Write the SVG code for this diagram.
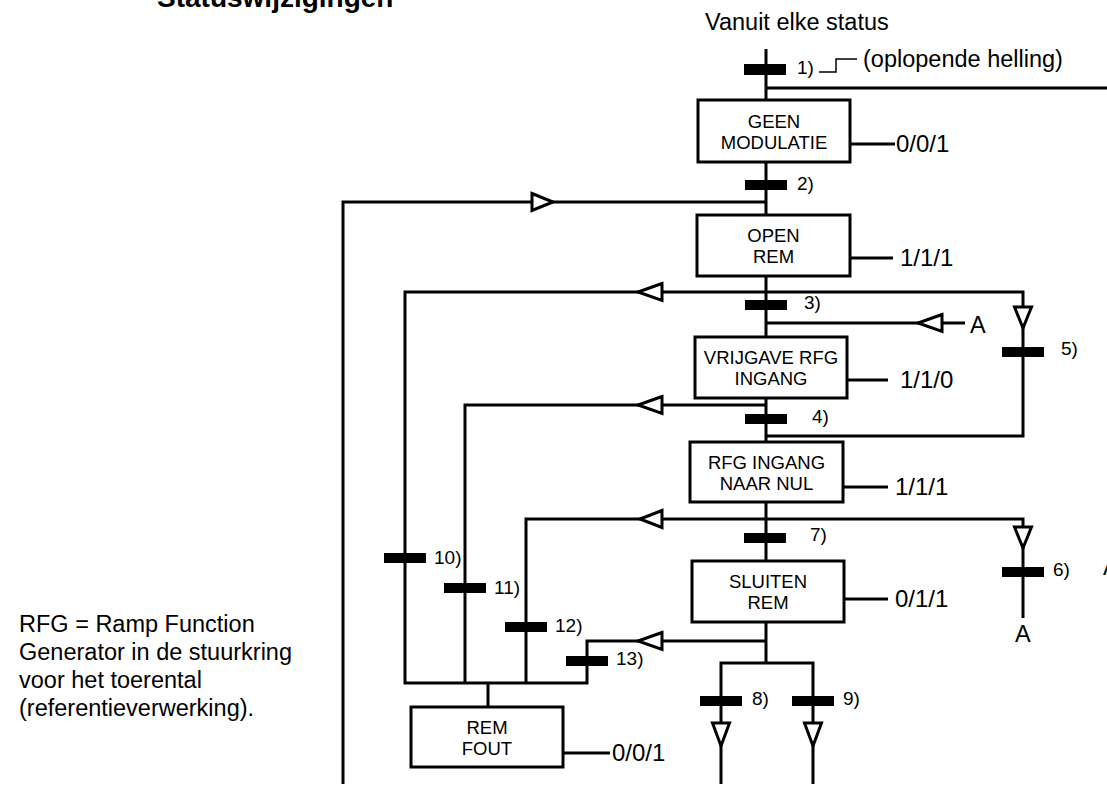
<svg xmlns="http://www.w3.org/2000/svg" width="1107" height="787" viewBox="0 0 1107 787">
<style>
text{font-family:"Liberation Sans",Arial,Helvetica,sans-serif;fill:#000}
.ln{fill:none;stroke:#000;stroke-width:3}
.thin{fill:none;stroke:#000;stroke-width:1.5}
.box{fill:#fff;stroke:#000;stroke-width:3}
.bar{fill:#000}
.arr{fill:#fff;stroke:#000;stroke-width:3;stroke-linejoin:miter}
.bt{font-size:18.5px;text-anchor:middle}
.val{font-size:24px}
.lab{font-size:19px}
.big{font-size:23.5px}
</style>
<text x="157" y="7" style="font-size:28px;font-weight:bold">Statuswijzigingen</text>
<text class="big" x="705" y="30">Vanuit elke status</text>
<text class="big" x="863" y="67">(oplopende helling)</text>
<g id="note">
<text class="big" x="19" y="632">RFG = Ramp Function</text>
<text class="big" x="19" y="660">Generator in de stuurkring</text>
<text class="big" x="19" y="688">voor het toerental</text>
<text class="big" x="19" y="716">(referentieverwerking).</text>
</g>
<g id="connectors">
<path class="ln" d="M766,49 V100 M766,162 V215 M766,276 V337 M766,398 V442 M766,502 V561 M766,622 V663"/>
<path class="ln" d="M766,88 H1107"/>
<path class="thin" d="M819,72 H836 V59 H857"/>
<path class="ln" d="M766,202 H343 V784"/>
<path class="ln" d="M766,436 H1023 V292 H405 V683 H587 V641 H766"/>
<path class="ln" d="M766,405 H465 V683"/>
<path class="ln" d="M1023,618 V519 H526 V683"/>
<path class="ln" d="M488,683 V707"/>
<path class="ln" d="M721,784 V663 H813 V784"/>
<path class="ln" d="M766,323 H965"/>
<polygon class="arr" points="532,193.5 553,202 532,210.5"/>
<polygon class="arr" points="662,283.5 638,292 662,300.5"/>
<polygon class="arr" points="662,396.5 638,405 662,413.5"/>
<polygon class="arr" points="662,510.5 640,519 662,527.5"/>
<polygon class="arr" points="662,632.5 638,641 662,649.5"/>
<polygon class="arr" points="942,314.5 918,323 942,331.5"/>
<polygon class="arr" points="1014.5,307 1031.5,307 1023,328"/>
<polygon class="arr" points="1014.5,527 1031.5,527 1023,548"/>
<polygon class="arr" points="712.5,723 729.5,723 721,746"/>
<polygon class="arr" points="804.5,723 821.5,723 813,746"/>
</g>
<g id="transitions">
<rect class="bar" x="744" y="64" width="42" height="11"/><text class="lab" x="797" y="74">1)</text>
<rect class="bar" x="745" y="180" width="42" height="10"/><text class="lab" x="797" y="190">2)</text>
<rect class="bar" x="745" y="300" width="42" height="10"/><text class="lab" x="804" y="309">3)</text>
<rect class="bar" x="745" y="414" width="42" height="10"/><text class="lab" x="812" y="423">4)</text>
<rect class="bar" x="1002" y="347" width="42" height="10"/><text class="lab" x="1061" y="355">5)</text>
<rect class="bar" x="1002" y="567" width="42" height="10"/><text class="lab" x="1053" y="576">6)</text>
<rect class="bar" x="744" y="533" width="42" height="10"/><text class="lab" x="810" y="541">7)</text>
<rect class="bar" x="700" y="696" width="42" height="10"/><text class="lab" x="752" y="705">8)</text>
<rect class="bar" x="792" y="696" width="42" height="10"/><text class="lab" x="843" y="705">9)</text>
<rect class="bar" x="384" y="553" width="42" height="10"/><text class="lab" x="434" y="564">10)</text>
<rect class="bar" x="444" y="583" width="42" height="10"/><text class="lab" x="494" y="594">11)</text>
<rect class="bar" x="505" y="622" width="42" height="10"/><text class="lab" x="555" y="632">12)</text>
<rect class="bar" x="566" y="656" width="42" height="10"/><text class="lab" x="616" y="665">13)</text>
<text class="big" x="970" y="333">A</text>
<text class="big" x="1015" y="642">A</text>
<text class="big" x="1103" y="575">A</text>
</g>
<g id="geen-modulatie">
<rect class="box" x="698" y="100" width="152" height="62"/>
<text class="bt" x="774" y="127.5">GEEN</text><text class="bt" x="774" y="148.5">MODULATIE</text>
<path class="ln" d="M850,144 H895"/><text class="val" x="896" y="152">0/0/1</text>
</g>
<g id="open-rem">
<rect class="box" x="697" y="215" width="153" height="61"/>
<text class="bt" x="773.5" y="242">OPEN</text><text class="bt" x="773.5" y="263">REM</text>
<path class="ln" d="M850,258 H893"/><text class="val" x="900" y="266">1/1/1</text>
</g>
<g id="vrijgave-rfg-ingang">
<rect class="box" x="695" y="337" width="152" height="61"/>
<text class="bt" x="771" y="364">VRIJGAVE RFG</text><text class="bt" x="771" y="385">INGANG</text>
<path class="ln" d="M847,380 H888"/><text class="val" x="900" y="388">1/1/0</text>
</g>
<g id="rfg-ingang-naar-nul">
<rect class="box" x="690" y="442" width="153" height="60"/>
<text class="bt" x="766.5" y="468.5">RFG INGANG</text><text class="bt" x="766.5" y="489.5">NAAR NUL</text>
<path class="ln" d="M843,487 H888"/><text class="val" x="895" y="495">1/1/1</text>
</g>
<g id="sluiten-rem">
<rect class="box" x="692" y="561" width="152" height="61"/>
<text class="bt" x="768" y="588">SLUITEN</text><text class="bt" x="768" y="609">REM</text>
<path class="ln" d="M844,599 H888"/><text class="val" x="895" y="607">0/1/1</text>
</g>
<g id="rem-fout">
<rect class="box" x="411" y="707" width="152" height="60"/>
<text class="bt" x="487" y="733.5">REM</text><text class="bt" x="487" y="754.5">FOUT</text>
<path class="ln" d="M563,753 H610"/><text class="val" x="612" y="761">0/0/1</text>
</g>
</svg>
